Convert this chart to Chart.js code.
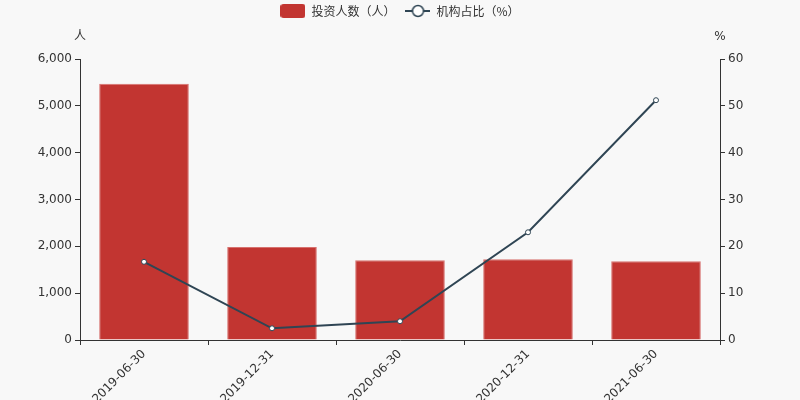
<!DOCTYPE html>
<html>
<head>
<meta charset="utf-8">
<script src="https://cdn.jsdelivr.net/npm/chart.js@4"></script>
<style>
  html, body { margin: 0; padding: 0; background: #f8f8f8; }
</style>
</head>
<body>
<canvas id="chart" width="800" height="400"></canvas>
<script>
const dates = ["2019-06-30", "2019-12-31", "2020-06-30", "2020-12-31", "2021-06-30"];
const investors = [5470, 1985, 1705, 1722, 1680];
const instShare = [16.7, 2.5, 4.0, 23.0, 51.2];

const FONT = "'DejaVu Sans', 'Noto Sans CJK SC', sans-serif";
const CJK = "'Noto Sans CJK SC', sans-serif";
const RED = "#c23531";
const NAVY = "#2f4554";
const INK = "#333";

// legend icons, echarts style
function barIcon() {
  const c = document.createElement("canvas");
  c.width = 25; c.height = 14;
  const g = c.getContext("2d");
  g.fillStyle = RED;
  g.beginPath();
  g.roundRect(0, 0, 25, 14, 3);
  g.fill();
  return c;
}
function lineIcon() {
  const c = document.createElement("canvas");
  c.width = 25; c.height = 14;
  const g = c.getContext("2d");
  g.strokeStyle = NAVY;
  g.lineWidth = 2;
  g.beginPath();
  g.moveTo(0, 7); g.lineTo(25, 7);
  g.stroke();
  g.fillStyle = "#fff";
  g.lineWidth = 1.5;
  g.beginPath();
  g.arc(12.5, 7, 5.5, 0, Math.PI * 2);
  g.fill(); g.stroke();
  return c;
}
const icons = [barIcon(), lineIcon()];

const extras = {
  id: "extras",
  afterInit(chart) {
    // leave room between legend and plot for the axis names
    const leg = chart.legend;
    const fit = leg.fit;
    leg.fit = function () { fit.call(this); this.height = 64; };
  },
  beforeDraw(chart) {
    const ctx = chart.ctx;
    ctx.save();
    ctx.fillStyle = "#f8f8f8";
    ctx.fillRect(0, 0, chart.width, chart.height);
    ctx.restore();
  },
  afterDraw(chart) {
    const ctx = chart.ctx, a = chart.chartArea;
    ctx.save();
    ctx.fillStyle = INK;
    ctx.font = "12px " + FONT;
    ctx.textAlign = "center";
    ctx.textBaseline = "middle";
    ctx.fillText("人", a.left, a.top - 22);
    ctx.fillText("%", a.right, a.top - 22);
    ctx.restore();
  }
};

new Chart(document.getElementById("chart"), {
  data: {
    labels: dates,
    datasets: [
      {
        type: "bar",
        label: "投资人数（人）",
        data: investors,
        yAxisID: "y",
        backgroundColor: RED,
        borderColor: "#d7716e",
        borderWidth: 1,
        barPercentage: 0.7,
        categoryPercentage: 1,
        order: 2,
      },
      {
        type: "line",
        label: "机构占比（%）",
        data: instShare,
        yAxisID: "y1",
        borderColor: NAVY,
        borderWidth: 2,
        pointRadius: 2.5,
        pointBorderWidth: 1,
        pointBackgroundColor: "#fff",
        pointBorderColor: NAVY,
        tension: 0,
        order: 1,
      },
    ],
  },
  options: {
    responsive: false,
    animation: false,
    layout: { padding: { top: -5, left: 0, right: 0, bottom: 0 } },
    plugins: {
      tooltip: { enabled: false },
      legend: {
        position: "top",
        labels: {
          usePointStyle: true,
          pointStyleWidth: 25,
          boxHeight: 14,
          padding: 10,
          color: INK,
          font: { size: 12, family: CJK },
          generateLabels(chart) {
            return chart.data.datasets.map((ds, i) => ({
              text: ds.label,
              pointStyle: icons[i],
              fillStyle: "transparent",
              strokeStyle: "transparent",
              lineWidth: 0,
              datasetIndex: i,
              fontColor: INK,
            }));
          },
        },
      },
    },
    scales: {
      x: {
        offset: true,
        grid: {
          offset: true,
          drawOnChartArea: false,
          tickLength: 5,
          color: INK,
        },
        border: { color: INK },
        ticks: {
          minRotation: 45,
          maxRotation: 45,
          padding: 2,
          color: INK,
          font: { size: 12, family: FONT },
        },
        afterFit(s) { s.height = 60; },
      },
      y: {
        position: "left",
        min: 0,
        max: 6000,
        ticks: {
          stepSize: 1000,
          color: INK,
          padding: 3,
          font: { size: 12, family: FONT },
        },
        grid: { drawOnChartArea: false, tickLength: 5, color: INK },
        border: { color: INK },
        afterFit(s) { s.width = 80; },
      },
      y1: {
        position: "right",
        min: 0,
        max: 60,
        ticks: {
          stepSize: 10,
          color: INK,
          padding: 3,
          font: { size: 12, family: FONT },
        },
        grid: { drawOnChartArea: false, tickLength: 5, color: INK },
        border: { color: INK },
        afterFit(s) { s.width = 80; },
      },
    },
  },
  plugins: [extras],
});
</script>
</body>
</html>
